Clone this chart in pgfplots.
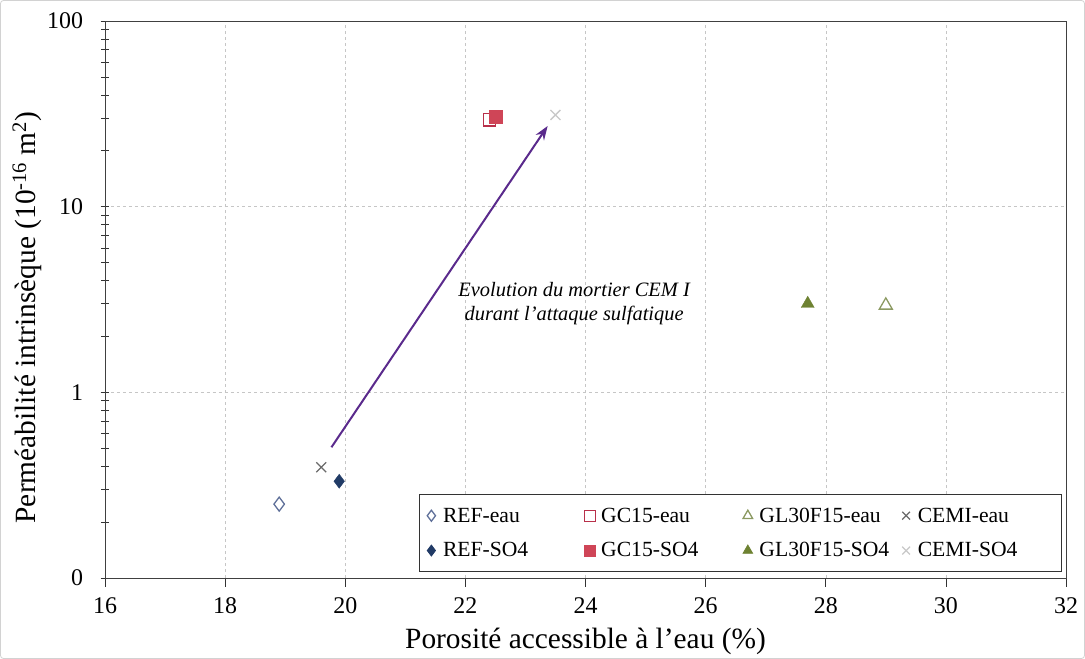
\documentclass[border=0pt]{standalone}
\usepackage{pgfplots}
\pgfplotsset{compat=1.18}
\usepackage{fontspec}
\setmainfont{Liberation Serif}
\usetikzlibrary{arrows.meta}
\definecolor{refeau}{HTML}{5F7099}
\definecolor{refso}{HTML}{213B66}
\definecolor{gceau}{HTML}{B8304A}
\definecolor{gcso}{HTML}{CF4557}
\definecolor{gleau}{HTML}{8C9A62}
\definecolor{glso}{HTML}{6E8232}
\definecolor{cemeau}{HTML}{6A6A6A}
\definecolor{cemso}{HTML}{C8C8C8}
\definecolor{arrowc}{HTML}{5A2A8C}
\begin{document}
\begin{tikzpicture}
\begin{axis}[
  at={(105bp,81bp)}, anchor=south west,
  scale only axis, width=961bp, height=557bp,
  xmin=16, xmax=32, ymin=0.1, ymax=100,
  ymode=log,
  xtick={16,18,...,32},
  ytick={0.1,1,10,100},
  yticklabels={0,1,10,100},
  log ticks with fixed point,
  /pgf/number format/assume math mode=true,
  tick pos=left,
  xtick align=outside,
  ytick align=center,
  major tick length=9bp,
  minor tick length=8bp,
  axis line style={draw=black!75, line width=0.9bp},
  tick style={black!80, line width=0.7bp},
  xmajorgrids, ymajorgrids,
  grid style={dashed, gray!45, line width=0.5bp},
  ticklabel style={font=\fontsize{24}{27}\selectfont},
  yticklabel style={xshift=-14bp},
  xticklabel style={yshift=-7bp},
  xlabel={Porosité accessible à l'eau (\%)},
  ylabel={Perméabilité intrinsèque (10\textsuperscript{-16} m\textsuperscript{2})},
  label style={font=\fontsize{29.5}{32}\selectfont},
  xlabel style={yshift=-8bp},
  ylabel style={yshift=-1bp, xshift=-18bp},
  legend columns=4,
  legend cell align=left,
  legend style={at={(0.996,0.011)}, anchor=south east,
    draw=black!80, line width=0.8bp,
    font=\fontsize{21.7}{24}\selectfont,
    inner xsep=4bp, inner ysep=11bp,
    row sep=15bp},
  legend image code/.code={\path (-1bp,0bp) (15bp,0bp); \draw[mark repeat=2,mark phase=2, mark size=5.5bp] plot coordinates {(0bp,0bp) (6bp,0bp) (14bp,0bp)};},
]
\addplot[only marks, mark=diamond, mark size=7bp, color=refeau, line width=1.3bp] coordinates {(18.9,0.25)};
\addlegendentry{\makebox[137bp][l]{REF-eau}}
\addplot[only marks, mark=square, mark size=6.2bp, color=gceau, line width=1.2bp] coordinates {(22.4,29.4)};
\addlegendentry{\makebox[137bp][l]{GC15-eau}}
\addplot[only marks, mark=triangle, mark size=7.5bp, color=gleau, line width=1.3bp] coordinates {(29.0,2.94)};
\addlegendentry{\makebox[137bp][l]{GL30F15-eau}}
\addplot[only marks, mark=x, mark size=7bp, color=cemeau, line width=1.3bp] coordinates {(19.6,0.395)};
\addlegendentry{\makebox[138bp][l]{CEMI-eau}}
\addplot[only marks, mark=diamond*, mark size=7bp, color=refso, fill=refso] coordinates {(19.9,0.332)};
\addlegendentry{\makebox[137bp][l]{REF-SO4}}
\addplot[only marks, mark=square*, mark size=6.5bp, color=gcso, fill=gcso] coordinates {(22.5,30.5)};
\addlegendentry{\makebox[137bp][l]{GC15-SO4}}
\addplot[only marks, mark=triangle*, mark size=7.5bp, color=glso, fill=glso] coordinates {(27.7,3.0)};
\addlegendentry{\makebox[137bp][l]{GL30F15-SO4}}
\addplot[only marks, mark=x, mark size=7bp, color=cemso, line width=1.3bp] coordinates {(23.5,31.2)};
\addlegendentry{\makebox[138bp][l]{CEMI-SO4}}
\draw[arrowc, line width=2bp, -{Stealth[length=14bp,width=10bp]}] (axis cs:19.77,0.506) -- (axis cs:23.37,27.2);
\node[align=center, font=\fontsize{20.5}{24}\selectfont\itshape] at (axis cs:23.81,3.0) {Evolution du mortier CEM I\\durant l'attaque sulfatique};
\end{axis}
\pgfresetboundingbox
\draw[gray!35, line width=0.8bp, rounded corners=3bp] (0.5bp,0.5bp) rectangle (1084.5bp,658.5bp);
\path[use as bounding box] (0,0) rectangle (1085bp,659bp);
\end{tikzpicture}
\end{document}
